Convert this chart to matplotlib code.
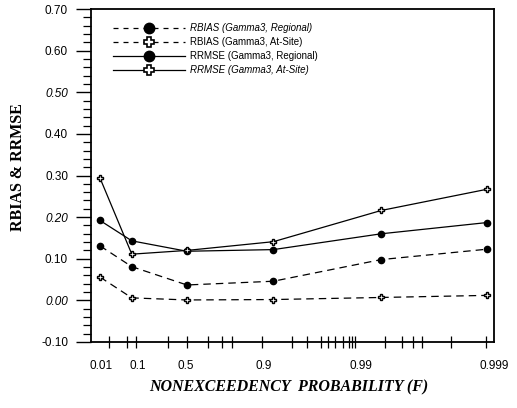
import numpy as np
import matplotlib
matplotlib.use("Agg")
import matplotlib.pyplot as plt
from matplotlib.ticker import MultipleLocator, FixedLocator, FixedFormatter
from matplotlib.lines import Line2D
import matplotlib.transforms as mtransforms

# Nonexceedency probabilities and estimator performance
prob = [0.01, 0.1, 0.5, 0.9, 0.99, 0.999]
rbias_regional = [0.131, 0.081, 0.037, 0.046, 0.098, 0.123]
rbias_atsite = [0.056, 0.006, 0.001, 0.002, 0.007, 0.012]
rrmse_regional = [0.192, 0.143, 0.118, 0.122, 0.160, 0.187]
rrmse_atsite = [0.294, 0.111, 0.120, 0.141, 0.216, 0.267]

series_labels = [
    "RBIAS (Gamma3, Regional)",
    "RBIAS (Gamma3, At-Site)",
    "RRMSE (Gamma3, Regional)",
    "RRMSE (Gamma3, At-Site)",
]
prob_tick_labels = ["0.01", "0.1", "0.5", "0.9", "0.99", "0.999"]
y_tick_labels = ["-0.10", "0.00", "0.10", "0.20", "0.30", "0.40", "0.50", "0.60", "0.70"]


# Gumbel probability paper: x = -ln(-ln F)
def fwd(f):
    f = np.clip(np.asarray(f, dtype=float), 1e-12, 1 - 1e-12)
    return -np.log(-np.log(f))


def inv(y):
    return np.exp(-np.exp(-np.asarray(y, dtype=float)))


fig = plt.figure(figsize=(5.17, 4.08), dpi=100)
W, H = 517, 408
ax = fig.add_axes([91 / W, 1 - 342 / H, (494.3 - 91) / W, (342 - 9) / H])
ax.set_xscale("function", functions=(fwd, inv))
ax.set_xlim(inv(-1.723), inv(7.063))
ax.set_ylim(-0.10, 0.70)

lw = 0.9
dash = (0, (6, 4))
ax.plot(prob, rbias_regional, color="black", lw=lw, linestyle=dash,
        marker="o", ms=4.5, mfc="black", mec="black")
ax.plot(prob, rbias_atsite, color="black", lw=lw, linestyle=dash,
        marker="P", ms=4.5, mfc="white", mec="black", mew=1.0)
ax.plot(prob, rrmse_regional, color="black", lw=lw, linestyle="-",
        marker="o", ms=4.5, mfc="black", mec="black")
ax.plot(prob, rrmse_atsite, color="black", lw=lw, linestyle="-",
        marker="P", ms=4.5, mfc="white", mec="black", mew=1.0)

# spines
for s in ax.spines.values():
    s.set_linewidth(1.3)

# y axis ticks: outward, major every 0.1 with minor ticks
ax.yaxis.set_major_locator(FixedLocator([-0.1, 0.0, 0.1, 0.2, 0.3, 0.4, 0.5, 0.6, 0.7]))
ax.yaxis.set_major_formatter(FixedFormatter(y_tick_labels))
ax.yaxis.set_minor_locator(MultipleLocator(0.02))
ax.tick_params(axis="y", which="major", direction="out", length=10.5, width=1.0,
               labelsize=8.5, pad=6, right=False)
ax.tick_params(axis="y", which="minor", direction="out", length=5.5, width=0.9, right=False)
for lab in ax.get_yticklabels():
    lab.set_fontfamily("Liberation Sans")
    if lab.get_text() in ("0.50", "0.20", "0.00"):
        lab.set_fontstyle("italic")

# x axis ticks: crossing marks on the probability axis
x_marks = [-1.33, -0.945, -0.743, -0.052, 0.362, 0.833, 1.124, 1.342, 1.996, 2.65,
           2.976, 3.281, 3.44, 3.593, 3.767, 3.898, 3.957, 4.029, 4.682, 5.046,
           5.292, 5.482, 6.12, 6.876]
ax.xaxis.set_minor_locator(FixedLocator(inv(x_marks)))
ax.xaxis.set_major_locator(FixedLocator(prob))
ax.xaxis.set_major_formatter(FixedFormatter(prob_tick_labels))
ax.tick_params(axis="x", which="minor", direction="inout", length=9, width=0.9, top=False)
ax.tick_params(axis="x", which="major", length=0, labelsize=8.5, pad=13, top=False)
label_shift_px = [1, 6, -1, -10, -20, 7]
for lab, dx in zip(ax.get_xticklabels(), label_shift_px):
    lab.set_fontfamily("Liberation Sans")
    lab.set_transform(lab.get_transform() +
                      mtransforms.ScaledTranslation(dx / 100, 0, fig.dpi_scale_trans))

# axis titles
fig.text(18 / W, 1 - 167 / H, "RBIAS & RRMSE", rotation=90, ha="center", va="center",
         fontsize=11.5, fontweight="bold", family="Liberation Serif")
fig.text(289 / W, 1 - 387 / H, "NONEXCEEDENCY  PROBABILITY (F)", ha="center", va="center",
         fontsize=11.5, fontweight="bold", style="italic", family="Liberation Serif")

# legend
handles = [
    Line2D([], [], color="black", lw=lw, linestyle=(0, (4, 4)), marker="o", ms=7.5,
           mfc="black", mec="black"),
    Line2D([], [], color="black", lw=lw, linestyle=(0, (4, 4)), marker="P", ms=7.5,
           mfc="white", mec="black", mew=1.2),
    Line2D([], [], color="black", lw=lw, linestyle="-", marker="o", ms=7.5,
           mfc="black", mec="black"),
    Line2D([], [], color="black", lw=lw, linestyle="-", marker="P", ms=7.5,
           mfc="white", mec="black", mew=1.2),
]
leg = ax.legend(handles, series_labels, loc="upper left",
                bbox_to_anchor=((113 - 91) / (494.3 - 91), 1 - (23 - 9) / (342 - 9)),
                frameon=False, handlelength=7.4, handletextpad=0.5, labelspacing=0.42,
                borderaxespad=0, borderpad=0, prop={"family": "Liberation Sans", "size": 7})
for i, t in enumerate(leg.get_texts()):
    if i in (0, 3):
        t.set_fontstyle("italic")

fig.savefig("out.png", dpi=100)
